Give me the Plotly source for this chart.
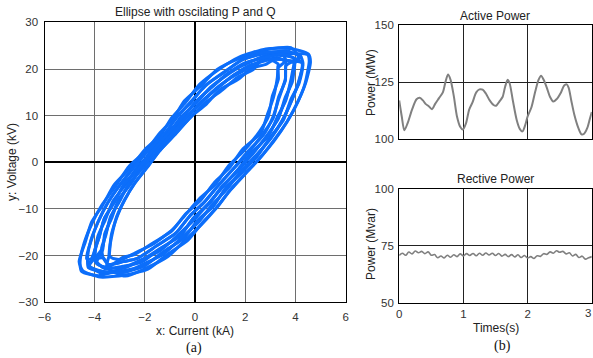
import plotly.graph_objects as go

# ---------------- data: ellipse loops (current kA, voltage kV) ----------------
loop1_x = [4.6,4.42,4.08,3.72,3.18,2.63,1.97,1.42,0.88,0.32,-0.28,-1.12,-1.88,-2.82,-3.78,-4.48,-4.62,-4.38,-4.12,-3.68,-3.22,-2.58,-2.02,-1.38,-0.92,-0.38,0.18,0.92,1.78,2.82,3.78,4.52,4.6]
loop1_y = [21.5,17.2,12.8,9.2,4.8,1.2,-2.6,-5.8,-9.6,-12.8,-16.7,-19.8,-22.9,-24.2,-24.6,-23.2,-21.3,-17.2,-12.8,-9.2,-4.8,-1.2,2.6,5.8,9.6,12.8,16.7,19.8,22.6,24.3,24.4,23.2,21.5]
loop2_x = [3.3,3.32,3.08,2.92,2.58,1.92,1.33,0.82,0.18,-0.42,-0.88,-1.72,-2.38,-2.92,-3.28,-3.42,-3.38,-3.32,-3.08,-2.82,-2.38,-1.92,-1.38,-0.82,-0.18,0.42,0.98,1.72,2.28,2.82,3.08,3.32,3.3]
loop2_y = [20.5,17.8,14.2,9.8,6.7,2.3,-0.8,-4.7,-7.8,-11.5,-14.3,-17.7,-19.4,-20.8,-20.6,-20.0,-17.3,-15.2,-11.3,-8.2,-4.3,-1.2,2.7,5.8,9.7,12.3,15.5,17.8,20.2,21.0,21.8,21.0,20.5]
loop3_x = [3.95,3.88,3.58,3.32,2.88,2.27,1.66,1.12,0.53,-0.07,-0.58,-1.42,-2.13,-2.87,-3.53,-3.97,-3.98,-3.87,-3.58,-3.27,-2.78,-2.27,-1.68,-1.12,-0.53,0.02,0.58,1.32,2.03,2.82,3.43,3.92,3.95]
loop3_y = [21.0,17.3,13.7,9.3,5.9,1.6,-1.9,-5.1,-8.9,-12.0,-15.7,-18.6,-21.4,-22.3,-22.8,-21.4,-19.7,-15.8,-12.4,-8.3,-4.9,-0.8,2.3,6.2,9.3,12.9,15.7,19.1,21.1,22.9,22.9,22.4,21.0]
loop4_x = [4.55,4.38,4.12,3.68,3.22,2.57,2.03,1.37,0.92,0.28,-0.32,-1.08,-1.92,-2.78,-3.52,-3.42,-3.38,-3.28,-3.12,-2.78,-2.42,-1.88,-1.42,-0.78,-0.22,0.38,1.02,1.68,2.32,2.78,3.47,4.48,4.55]
loop4_y = [21.8,16.8,13.2,8.8,5.3,0.8,-2.3,-6.2,-9.3,-13.2,-16.3,-20.2,-22.6,-24.4,-22.5,-19.9,-17.6,-14.8,-11.6,-7.8,-4.6,-0.8,2.4,6.2,9.4,12.7,15.2,18.2,19.9,22.8,23.2,23.1,21.8]
loop5_x = [3.95,3.82,3.62,3.28,2.92,2.22,1.70,1.08,0.57,-0.03,-0.62,-1.38,-2.17,-2.83,-3.82,-4.52,-4.58,-4.42,-4.08,-3.72,-3.18,-2.62,-1.98,-1.42,-0.88,-0.42,0.22,0.88,1.82,2.78,3.82,4.12,3.95]
loop5_y = [21.0,17.7,13.3,9.7,5.6,1.9,-1.6,-5.4,-8.6,-12.3,-15.3,-18.9,-21.0,-22.6,-24.3,-23.4,-21.2,-17.3,-12.8,-9.2,-5.2,-0.8,2.3,6.2,9.3,13.2,16.3,19.9,22.4,24.1,24.6,22.6,21.0]
loop6_x = [3.32,3.28,3.12,2.88,2.62,1.88,1.37,0.78,0.22,-0.38,-0.92,-1.68,-2.42,-2.88,-3.57,-3.93,-4.02,-3.83,-3.62,-3.23,-2.82,-2.23,-1.72,-1.08,-0.57,0.03,0.62,1.28,2.07,2.78,3.47,3.62,3.32]
loop6_y = [20.3,18.2,13.8,10.2,6.3,2.7,-1.2,-4.3,-8.2,-11.1,-14.7,-17.3,-19.8,-20.4,-22.8,-21.3,-19.3,-16.2,-12.1,-8.7,-4.6,-1.2,2.7,5.8,9.7,12.6,16.1,18.7,21.4,22.5,23.2,21.8,20.3]
loop7_x = [4.28,4.15,3.82,3.52,3.03,2.45,1.82,1.27,0.71,0.15,-0.47,-1.23,-2.05,-2.81,-3.7,-4.21,-3.72,-3.56,-3.37,-3.01,-2.62,-2.06,-1.57,-0.93,-0.4,0.22,0.78,1.52,2.16,2.82,3.26,3.62,4.28]
loop7_y = [21.25,17.0,13.5,9.0,5.6,1.1,-2.3,-5.4,-9.3,-12.4,-16.2,-19.2,-22.2,-23.2,-23.8,-22.2,-18.7,-15.3,-12.1,-8.0,-4.8,-0.8,2.3,6.2,9.3,12.8,15.4,18.6,20.4,22.1,22.1,21.9,21.25]
loop8_x = [3.63,3.6,3.33,3.12,2.73,2.1,1.49,0.97,0.36,-0.21,-0.77,-1.53,-2.3,-2.86,-3.45,-3.66,-4.32,-4.11,-3.87,-3.46,-3.02,-2.41,-1.87,-1.23,-0.75,-0.18,0.38,1.12,1.91,2.82,3.61,4.22,3.63]
loop8_y = [20.75,17.5,14.0,9.5,6.3,1.9,-1.6,-4.7,-8.6,-11.5,-15.2,-17.9,-20.6,-21.3,-21.9,-20.5,-20.7,-16.3,-12.8,-8.5,-5.1,-0.8,2.7,5.8,9.7,12.7,16.4,19.1,22.1,23.3,23.9,22.6,20.75]
loop9_x = [4.3,4.11,3.87,3.48,3.07,2.41,1.86,1.23,0.75,0.11,-0.43,-1.27,-2.01,-2.85,-3.66,-4.25,-4.28,-4.15,-3.83,-3.5,-2.98,-2.45,-1.83,-1.27,-0.71,-0.22,0.42,1.08,1.95,2.78,3.65,4.18,4.3]
loop9_y = [21.3,17.0,13.5,9.0,5.6,1.2,-2.3,-5.4,-9.3,-12.4,-16.2,-19.2,-22.2,-23.6,-23.4,-22.6,-20.3,-16.7,-12.4,-8.9,-4.7,-1.2,2.7,5.8,9.7,12.7,16.4,19.1,22.1,23.6,23.6,23.0,21.3]
loop10_x = [3.61,3.6,3.33,3.12,2.73,2.1,1.49,0.97,0.36,-0.21,-0.77,-1.53,-2.3,-2.86,-3.45,-3.66,-3.72,-3.56,-3.37,-3.01,-2.62,-2.06,-1.57,-0.93,-0.4,0.22,0.78,1.52,2.16,2.82,3.26,3.62,3.61]
loop10_y = [20.6,17.9,13.5,9.9,5.9,2.3,-1.6,-4.7,-8.6,-11.5,-15.2,-17.9,-20.6,-21.3,-21.9,-20.5,-18.3,-15.7,-11.7,-8.4,-4.4,-1.2,2.3,6.2,9.3,12.8,15.4,18.6,20.8,21.8,22.5,21.5,20.6]
loop11_x = [3.97,3.83,3.62,3.28,2.92,2.23,1.7,1.08,0.57,-0.07,-0.58,-1.42,-2.13,-2.87,-3.53,-3.93,-3.68,-3.6,-3.33,-3.05,-2.58,-2.1,-1.53,-0.97,-0.36,0.18,0.82,1.48,2.2,2.78,3.3,3.58,3.97]
loop11_y = [21.2,17.3,13.7,9.3,5.9,1.6,-1.9,-5.1,-8.9,-12.0,-15.7,-18.6,-21.0,-22.7,-22.5,-21.7,-18.7,-15.3,-12.1,-8.0,-4.8,-0.8,2.7,5.8,9.7,12.4,15.8,18.3,20.4,22.1,22.1,21.9,21.2]
loop12_x = [4.26,4.15,3.83,3.52,3.03,2.45,1.82,1.27,0.71,0.15,-0.47,-1.23,-2.05,-2.81,-3.7,-4.21,-4.02,-3.83,-3.62,-3.23,-2.82,-2.23,-1.72,-1.08,-0.57,0.03,0.58,1.32,2.03,2.82,3.43,3.92,4.26]
loop12_y = [21.4,17.4,13.0,9.4,5.2,1.6,-1.9,-5.8,-8.9,-12.8,-15.8,-19.6,-21.8,-23.6,-23.4,-22.2,-19.3,-16.2,-12.1,-8.7,-4.6,-1.2,2.3,6.2,9.3,13.0,15.7,19.1,21.4,22.5,23.2,22.4,21.4]

loops = [(loop1_x, loop1_y), (loop2_x, loop2_y), (loop3_x, loop3_y), (loop4_x, loop4_y),
         (loop5_x, loop5_y), (loop6_x, loop6_y), (loop7_x, loop7_y), (loop8_x, loop8_y),
         (loop9_x, loop9_y), (loop10_x, loop10_y), (loop11_x, loop11_y), (loop12_x, loop12_y)]

# ---------------- data: active power ----------------
p_time = [0.00,0.04,0.08,0.13,0.20,0.27,0.32,0.37,0.41,0.46,0.51,0.56,0.62,0.68,0.72,0.76,0.80,0.85,0.90,0.95,
          0.99,1.04,1.09,1.14,1.20,1.25,1.30,1.35,1.41,1.47,1.51,1.56,1.61,1.65,1.69,1.72,1.77,1.83,1.88,1.92,
          1.96,2.00,2.06,2.12,2.17,2.21,2.25,2.30,2.35,2.40,2.45,2.52,2.57,2.61,2.64,2.68,2.73,2.79,2.84,2.88,
          2.93,2.97,3.00]
p_mw = [117,110,104,107,113,117.5,118.2,117,115.5,114.5,113.2,115.5,118,120.5,125,128.3,126,119,110,105.5,
        104.3,107,113,116,120.5,121.8,121.7,120,117,115,114.7,116.5,118.5,123,126,124.5,117,108.5,104.5,103.5,
        106,110,114,121,126,127.8,126,122.5,118.5,116.5,117.5,120.5,123.5,124,122.5,117,110.5,105,102.2,102.5,
        105,109,112]

# ---------------- data: reactive power ----------------
q_time = [0.00,0.05,0.10,0.15,0.20,0.25,0.30,0.35,0.40,0.45,0.50,0.55,0.60,0.65,0.70,0.75,0.80,0.85,0.90,0.95,
          1.00,1.05,1.10,1.15,1.20,1.25,1.30,1.35,1.40,1.45,1.50,1.55,1.60,1.65,1.70,1.75,1.80,1.85,1.90,1.95,
          2.00,2.05,2.10,2.15,2.20,2.25,2.30,2.35,2.40,2.45,2.50,2.55,2.60,2.65,2.70,2.75,2.80,2.85,2.90,2.95,3.00]
q_mvar = [70.8,71.8,70.9,72.3,71.5,72.8,72.0,72.6,71.6,72.4,70.9,71.2,69.8,70.6,69.7,70.9,70.0,71.1,70.3,71.5,
          70.6,71.6,70.8,71.7,70.7,71.8,70.9,71.9,71.0,71.8,70.8,71.7,70.5,71.3,70.3,71.2,70.2,71.1,69.9,70.8,
          69.7,70.3,69.5,70.7,70.4,71.6,71.3,72.4,71.8,72.9,72.2,72.6,71.5,72.0,70.6,71.3,69.9,70.5,69.2,69.8,70.3]

x_ticks_a = [-6, -4, -2, 0, 2, 4, 6]
y_ticks_a = [-30, -20, -10, 0, 10, 20, 30]
t_ticks = [0, 1, 2, 3]
p_ticks = [100, 125, 150]
q_ticks = [50, 75, 100]

W, H = 593, 358
BLUE = "rgb(12,110,250)"
GRAY = "rgb(128,128,128)"
FONT = "Liberation Sans, Arial, sans-serif"

fig = go.Figure()
for lx, ly in loops:
    fig.add_trace(go.Scatter(x=lx, y=ly, mode="lines", line=dict(color=BLUE, width=3.0, shape="spline", smoothing=0.6),
                             showlegend=False, hoverinfo="skip", xaxis="x", yaxis="y"))
fig.add_trace(go.Scatter(x=p_time, y=p_mw, mode="lines", line=dict(color=GRAY, width=2, shape="spline", smoothing=0.8),
                         showlegend=False, xaxis="x2", yaxis="y2"))
fig.add_trace(go.Scatter(x=q_time, y=q_mvar, mode="lines", line=dict(color=GRAY, width=1.6, shape="spline", smoothing=1.0),
                         showlegend=False, xaxis="x3", yaxis="y3"))

def px_x(p):
    return p / W

def px_y(p):
    return 1 - p / H

tickfont = dict(family=FONT, size=11.5, color="#333333")
common = dict(showline=True, mirror=True, linecolor="black", linewidth=1.2, ticks="",
              tickfont=tickfont, showgrid=True, automargin=False)

fig.update_layout(
    width=W, height=H, margin=dict(l=0, r=0, t=0, b=0, autoexpand=False),
    paper_bgcolor="white", plot_bgcolor="white",
    xaxis=dict(domain=[px_x(44.5), px_x(345.6)], range=[-6, 6], tickvals=x_ticks_a, anchor="y",
               gridcolor="#6e6e6e", gridwidth=1.3, zeroline=True, zerolinecolor="black", zerolinewidth=1.6,
               ticklabelstandoff=4, **common),
    yaxis=dict(domain=[px_y(302.2), px_y(22.4)], range=[-30, 30], tickvals=y_ticks_a, anchor="x",
               gridcolor="#6e6e6e", gridwidth=1.3, zeroline=True, zerolinecolor="black", zerolinewidth=1.6,
               ticklabelstandoff=3, **common),
    xaxis2=dict(domain=[px_x(399.2), px_x(591.8)], range=[0, 3], tickvals=t_ticks, showticklabels=False, anchor="y2",
                gridcolor="#222222", gridwidth=1.2, zeroline=False, **common),
    yaxis2=dict(domain=[px_y(139.4), px_y(24.8)], range=[100, 150], tickvals=p_ticks, anchor="x2",
                gridcolor="#222222", gridwidth=1.2, zeroline=False, ticklabelstandoff=2, **common),
    xaxis3=dict(domain=[px_x(399.2), px_x(591.8)], range=[0, 3], tickvals=t_ticks, anchor="y3",
                gridcolor="#222222", gridwidth=1.2, zeroline=False, ticklabelstandoff=0, **common),
    yaxis3=dict(domain=[px_y(302.7), px_y(189.2)], range=[50, 100], tickvals=q_ticks, anchor="x3",
                gridcolor="#222222", gridwidth=1.2, zeroline=False, ticklabelstandoff=2, **common),
)

def ann(text, x, y, size=12, angle=0, family=FONT, color="#222222", xanchor="center"):
    fig.add_annotation(text=text, x=px_x(x), y=px_y(y), xref="paper", yref="paper",
                       showarrow=False, textangle=angle, xanchor=xanchor, yanchor="middle",
                       font=dict(family=family, size=size, color=color))

ann("Ellipse with oscilating P and Q", 196, 12.5)
ann("x: Current (kA)", 195, 331)
ann("y: Voltage (kV)", 12, 162, angle=-90)
ann("(a)", 194, 348, size=14, family="Liberation Serif, Times New Roman, serif", color="#111111")
ann("Active Power", 495, 16.5)
ann("Power (MW)", 371, 83, angle=-90)
ann("Rective Power", 495, 179)
ann("Power (Mvar)", 371, 244, angle=-90)
ann("Times(s)", 496, 328)
ann("(b)", 502, 346, size=14, family="Liberation Serif, Times New Roman, serif", color="#111111")
# last time tick label sits at the right edge of the page (hidden by the axis itself)
fig.add_annotation(text=str(t_ticks[-1]), x=1.0, y=px_y(313), xref="paper", yref="paper", showarrow=False,
                   xanchor="right", yanchor="middle", font=tickfont)

fig.write_html("out.html", config={"displayModeBar": False},
               post_script="document.body.style.margin='0';document.body.style.padding='0';")
